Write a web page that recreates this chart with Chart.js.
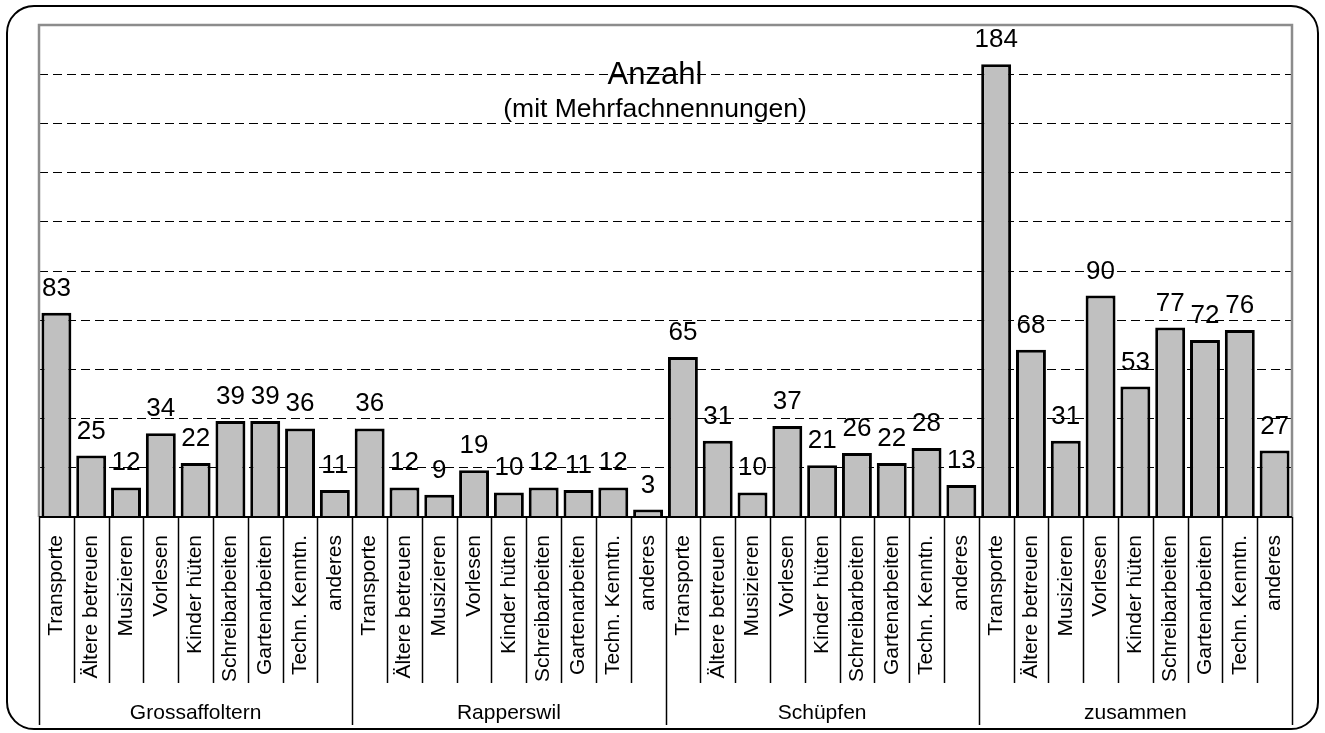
<!DOCTYPE html>
<html>
<head>
<meta charset="utf-8">
<title>Angebote</title>
<script src="https://cdn.jsdelivr.net/npm/chart.js@4/dist/chart.umd.min.js"></script>
<style>
  html, body { margin: 0; padding: 0; background: #fff; }
</style>
</head>
<body>
<canvas id="myChart" width="1325" height="733"></canvas>
<script>
// --- Daten ---
const orte = ['Grossaffoltern', 'Rapperswil', 'Schüpfen', 'zusammen'];
const taetigkeiten = ['Transporte', 'Ältere betreuen', 'Musizieren', 'Vorlesen', 'Kinder hüten',
                      'Schreibarbeiten', 'Gartenarbeiten', 'Techn. Kenntn.', 'anderes'];
const grossaffoltern = [83, 25, 12, 34, 22, 39, 39, 36, 11];
const rapperswil     = [36, 12, 9, 19, 10, 12, 11, 12, 3];
const schuepfen      = [65, 31, 10, 37, 21, 26, 22, 28, 13];
const zusammen       = [184, 68, 31, 90, 53, 77, 72, 76, 27];
const yMax = 200;
const yStep = 20;

// one bar per Ort x Tätigkeit
const labels = [].concat(taetigkeiten, taetigkeiten, taetigkeiten, taetigkeiten);
const werte = [].concat(grossaffoltern, rapperswil, schuepfen, zusammen);

const FONT = "'Liberation Sans', Arial, sans-serif";
Chart.defaults.font.family = FONT;
Chart.defaults.color = '#000';

// frame, separators, group names and value labels
const rahmenPlugin = {
    id: 'rahmen',
    beforeDatasetsDraw(chart) {
        const {ctx, chartArea: a} = chart;
        ctx.save();
        ctx.strokeStyle = '#8c8c8c';
        ctx.lineWidth = 2.5;
        ctx.beginPath();
        ctx.moveTo(a.left, a.bottom);
        ctx.lineTo(a.left, a.top);
        ctx.lineTo(a.right, a.top);
        ctx.lineTo(a.right, a.bottom);
        ctx.stroke();
        ctx.restore();
    },
    afterDatasetsDraw(chart) {
        const {ctx, chartArea: a} = chart;
        const n = labels.length;
        const w = (a.right - a.left) / n;
        ctx.save();

        // x axis
        ctx.strokeStyle = '#000';
        ctx.lineWidth = 2;
        ctx.beginPath();
        ctx.moveTo(a.left, a.bottom);
        ctx.lineTo(a.right, a.bottom);
        ctx.stroke();

        // separators below the axis
        ctx.lineWidth = 1.5;
        for (let k = 0; k <= n; k++) {
            const x = Math.round(a.left + k * w) + 0.5;
            const yEnd = (k % taetigkeiten.length === 0) ? 725 : 683;
            ctx.beginPath();
            ctx.moveTo(x, a.bottom);
            ctx.lineTo(x, yEnd);
            ctx.stroke();
        }

        // Ort names
        ctx.fillStyle = '#000';
        ctx.font = '21px ' + FONT;
        ctx.textAlign = 'center';
        ctx.textBaseline = 'alphabetic';
        orte.forEach((ort, g) => {
            const x = a.left + (g * taetigkeiten.length + taetigkeiten.length / 2) * w;
            ctx.fillText(ort, x, 719);
        });

        // values above bars
        ctx.font = '26px ' + FONT;
        const meta = chart.getDatasetMeta(0);
        meta.data.forEach((bar, i) => {
            ctx.fillText(String(chart.data.datasets[0].data[i]), bar.x, bar.y - 17);
        });

        // heading inside the plot
        const mitte = 655;
        ctx.font = '31px ' + FONT;
        ctx.fillText('Anzahl', mitte, 84);
        ctx.font = '26.5px ' + FONT;
        ctx.fillText('(mit Mehrfachnennungen)', mitte, 117);

        // rounded outer border
        ctx.lineWidth = 2;
        ctx.beginPath();
        ctx.roundRect(7, 6, 1311, 723, 27);
        ctx.stroke();
        ctx.restore();
    }
};

const ctx = document.getElementById('myChart');

const config = {
    type: 'bar',
    data: {
        labels: labels,
        datasets: [{
            data: werte,
            backgroundColor: '#c0c0c0',
            borderColor: '#000',
            borderWidth: 3,
            borderSkipped: 'start',
            barPercentage: 0.86,
            categoryPercentage: 1
        }]
    },
    options: {
        responsive: false,
        devicePixelRatio: 1,
        animation: false,
        layout: { padding: { left: 39, right: 33, top: 25, bottom: 0 } },
        plugins: {
            legend: { display: false },
            tooltip: { enabled: false }
        },
        scales: {
            x: {
                grid: { display: false },
                border: { display: false },
                ticks: {
                    autoSkip: false,
                    minRotation: 90,
                    maxRotation: 90,
                    padding: 10,
                    font: { size: 21 },
                    color: '#000'
                },
                afterFit(scale) { scale.height = 216; }
            },
            y: {
                min: 0,
                max: yMax,
                ticks: { display: false, stepSize: yStep },
                grid: {
                    drawTicks: false,
                    color: (c) => (c.tick.value === 0 || c.tick.value === yMax) ? 'rgba(0,0,0,0)' : '#000',
                    lineWidth: 1
                },
                border: { display: false, dash: [9, 5] },
                afterFit(scale) { scale.width = 0; }
            }
        }
    },
    plugins: [rahmenPlugin]
};

const myChart = new Chart(ctx, config);
</script>
</body>
</html>
